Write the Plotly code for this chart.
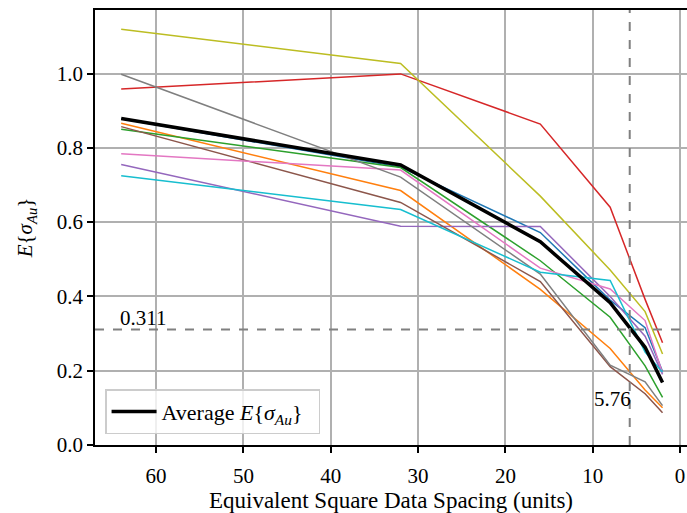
import plotly.graph_objects as go

spacing = [64, 32, 16, 8, 4, 2]

series = {
    "#1f77b4": [0.878, 0.748, 0.572, 0.390, 0.316, 0.198],
    "#ff7f0e": [0.866, 0.685, 0.419, 0.260, 0.148, 0.100],
    "#2ca02c": [0.850, 0.747, 0.496, 0.344, 0.213, 0.128],
    "#d62728": [0.958, 0.999, 0.864, 0.640, 0.392, 0.275],
    "#9467bd": [0.755, 0.589, 0.588, 0.400, 0.293, 0.190],
    "#8c564b": [0.857, 0.653, 0.440, 0.211, 0.138, 0.087],
    "#e377c2": [0.784, 0.740, 0.476, 0.420, 0.335, 0.193],
    "#7f7f7f": [0.998, 0.721, 0.460, 0.215, 0.170, 0.106],
    "#bcbd22": [1.119, 1.027, 0.670, 0.471, 0.359, 0.245],
    "#17becf": [0.725, 0.634, 0.465, 0.443, 0.250, 0.196],
}
average = [0.879, 0.754, 0.547, 0.383, 0.263, 0.168]

threshold_y = 0.311
threshold_x = 5.76

font_family = "Liberation Serif"

fig = go.Figure()
for color, vals in series.items():
    fig.add_trace(go.Scatter(x=spacing, y=vals, mode="lines",
                             line=dict(color=color, width=1.5),
                             showlegend=False, hoverinfo="skip"))
fig.add_trace(go.Scatter(x=spacing, y=average, mode="lines",
                         line=dict(color="black", width=3.5),
                         name="Average <i>E</i>{<i>σ</i><sub><i>Au</i></sub>}\u00a0\u00a0",
                         showlegend=True))

fig.add_shape(type="line", xref="paper", yref="y", x0=0, x1=1,
              y0=threshold_y, y1=threshold_y,
              line=dict(color="#808080", width=2, dash="dash"))
fig.add_shape(type="line", xref="x", yref="paper", x0=threshold_x, x1=threshold_x,
              y0=0, y1=1, line=dict(color="#808080", width=2, dash="dash"))

fig.add_annotation(x=64, y=threshold_y, text=f"{threshold_y:.3f}", showarrow=False,
                   xanchor="left", yanchor="bottom", font=dict(size=21, color="black"),
                   xshift=-3, yshift=-3)
fig.add_annotation(x=threshold_x, y=0.095, text=f"{threshold_x:.2f}", showarrow=False,
                   xanchor="right", yanchor="bottom", font=dict(size=21, color="black"),
                   xshift=3, yshift=-3)

fig.update_layout(
    width=687, height=513,
    margin=dict(l=95, r=0, t=10, b=68),
    paper_bgcolor="white", plot_bgcolor="white",
    font=dict(family=font_family, size=21, color="black"),
    legend=dict(x=0.017, y=0.025, xanchor="left", yanchor="bottom",
                bgcolor="rgba(255,255,255,0.8)", bordercolor="#cccccc", borderwidth=1.5,
                itemwidth=45, font=dict(size=22)),
    xaxis=dict(range=[67.0, -0.8], tickvals=[60, 50, 40, 30, 20, 10, 0],
               automargin=False, ticklabelstandoff=5,
               showgrid=True, gridcolor="#b0b0b0", gridwidth=1.5,
               showline=True, linecolor="black", linewidth=1.5, mirror=True,
               ticks="outside", ticklen=6, tickwidth=1.5, tickcolor="black",
               zeroline=False,
               title=dict(text="Equivalent Square Data Spacing (units)", font=dict(size=23), standoff=0)),
    yaxis=dict(range=[0, 1.171], tickvals=[0.0, 0.2, 0.4, 0.6, 0.8, 1.0],
               tickformat=".1f", automargin=False,
               showgrid=True, gridcolor="#b0b0b0", gridwidth=1.5,
               showline=True, linecolor="black", linewidth=1.5, mirror=False,
               ticks="outside", ticklen=6, tickwidth=1.5, tickcolor="black",
               zeroline=False,
               title=dict(text="<i>E</i>{<i>σ</i><sub><i>Au</i></sub>}", font=dict(size=21), standoff=18)),
)

fig.write_html("out.html", config={"displayModeBar": False},
               post_script="document.body.style.margin='0';document.body.style.overflow='hidden';")
